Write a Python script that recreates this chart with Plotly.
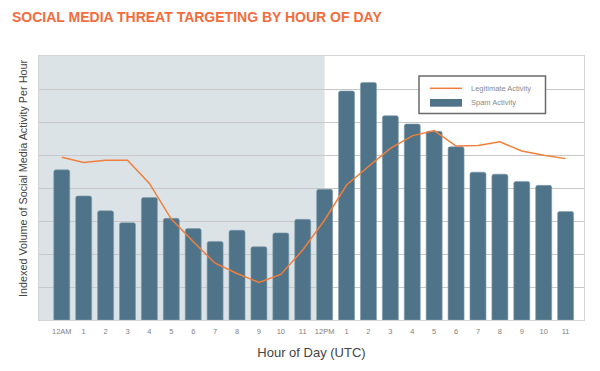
import plotly.graph_objects as go

hour_labels = ["12AM", "1", "2", "3", "4", "5", "6", "7", "8", "9", "10", "11",
               "12PM", "1", "2", "3", "4", "5", "6", "7", "8", "9", "10", "11"]
hours = list(range(24))
spam_activity = [4.55, 3.76, 3.31, 2.95, 3.71, 3.08, 2.77, 2.38, 2.72, 2.22, 2.64, 3.05,
                 3.96, 6.94, 7.20, 6.19, 5.94, 5.72, 5.25, 4.48, 4.42, 4.20, 4.08, 3.29]
legit_activity = [4.93, 4.77, 4.84, 4.84, 4.14, 3.06, 2.38, 1.72, 1.41, 1.14, 1.38, 2.12,
                  3.03, 4.09, 4.65, 5.20, 5.58, 5.74, 5.27, 5.29, 5.40, 5.12, 4.99, 4.89]

W, H = 600, 371
ML, MR, MT, MB = 39, 16, 56, 51
PW, PH = W - ML - MR, H - MT - MB


def px(x):
    return (x - ML) / PW


def py(y):
    return (H - MB - y) / PH


BAR_COLOR = "#4f7489"
LINE_COLOR = "#f07f3c"

fig = go.Figure()
fig.add_trace(go.Bar(
    x=hours, y=spam_activity, name="Spam Activity",
    marker=dict(color=BAR_COLOR, line=dict(color="#7f9cac", width=0.6)),
    width=0.73,
))
fig.add_trace(go.Scatter(
    x=hours, y=legit_activity, name="Legitimate Activity", mode="lines",
    line=dict(color=LINE_COLOR, width=1.5),
))

# shaded night-time region
fig.add_shape(type="rect", xref="x", yref="y", x0=-1.04, x1=12, y0=0, y1=8,
              fillcolor="#dce3e7", line=dict(width=0), layer="below")

# custom legend
fig.add_shape(type="rect", xref="paper", yref="paper", x0=px(419), x1=px(545.5),
              y0=py(113.5), y1=py(76), fillcolor="white",
              line=dict(color="#6a6a6a", width=1.5), layer="above")
fig.add_shape(type="line", xref="paper", yref="paper", x0=px(430), x1=px(462),
              y0=py(88.3), y1=py(88.3), line=dict(color=LINE_COLOR, width=1.5), layer="above")
fig.add_shape(type="rect", xref="paper", yref="paper", x0=px(430), x1=px(462),
              y0=py(106.7), y1=py(99), fillcolor=BAR_COLOR, line=dict(width=0), layer="above")
for label, yy in [("Legitimate Activity", 88.3), ("Spam Activity", 103)]:
    fig.add_annotation(text=label, xref="paper", yref="paper", x=px(469), y=py(yy),
                       xanchor="left", yanchor="middle", showarrow=False,
                       font=dict(family="Liberation Sans, sans-serif", size=7.5, color="#8a8a8a"))

# y-axis title
fig.add_annotation(text="Indexed Volume of Social Media Activity Per Hour", xref="paper",
                   yref="paper", x=px(23), y=py(179), textangle=-90, showarrow=False,
                   xanchor="center", yanchor="middle",
                   font=dict(family="Liberation Sans, sans-serif", size=10.8, color="#444444"))

fig.update_layout(
    width=W, height=H,
    margin=dict(l=ML, r=MR, t=MT, b=MB, autoexpand=False),
    paper_bgcolor="white", plot_bgcolor="white",
    barcornerradius=2,
    showlegend=False,
    title=dict(text="SOCIAL MEDIA THREAT TARGETING BY HOUR OF DAY",
               x=12 / W, xanchor="left", y=1 - 17 / H, yanchor="middle",
               font=dict(family="Liberation Sans, sans-serif",
                         size=14, color="#f26d3d", weight="bold")),
    xaxis=dict(range=[-1.04, 23.84], tickmode="array", tickvals=hours, ticktext=hour_labels,
               showgrid=False, showline=True, linecolor="#d4d4d4", linewidth=1, mirror=True,
               ticks="", automargin=False, ticklabelstandoff=4,
               tickfont=dict(family="Liberation Sans, sans-serif", size=7.5, color="#808080"),
               title=dict(text="Hour of Day (UTC)", standoff=12,
                          font=dict(family="Liberation Sans, sans-serif", size=13, color="#444444")),
               zeroline=False),
    yaxis=dict(range=[0, 8], dtick=1, showticklabels=False, showgrid=True, automargin=False,
               gridcolor="#c8c8c8", gridwidth=1, showline=True, linecolor="#d4d4d4",
               linewidth=1, mirror=True, zeroline=False, ticks=""),
)

fig.write_html("out.html", config={"displayModeBar": False},
               post_script="document.body.style.margin='0';")
